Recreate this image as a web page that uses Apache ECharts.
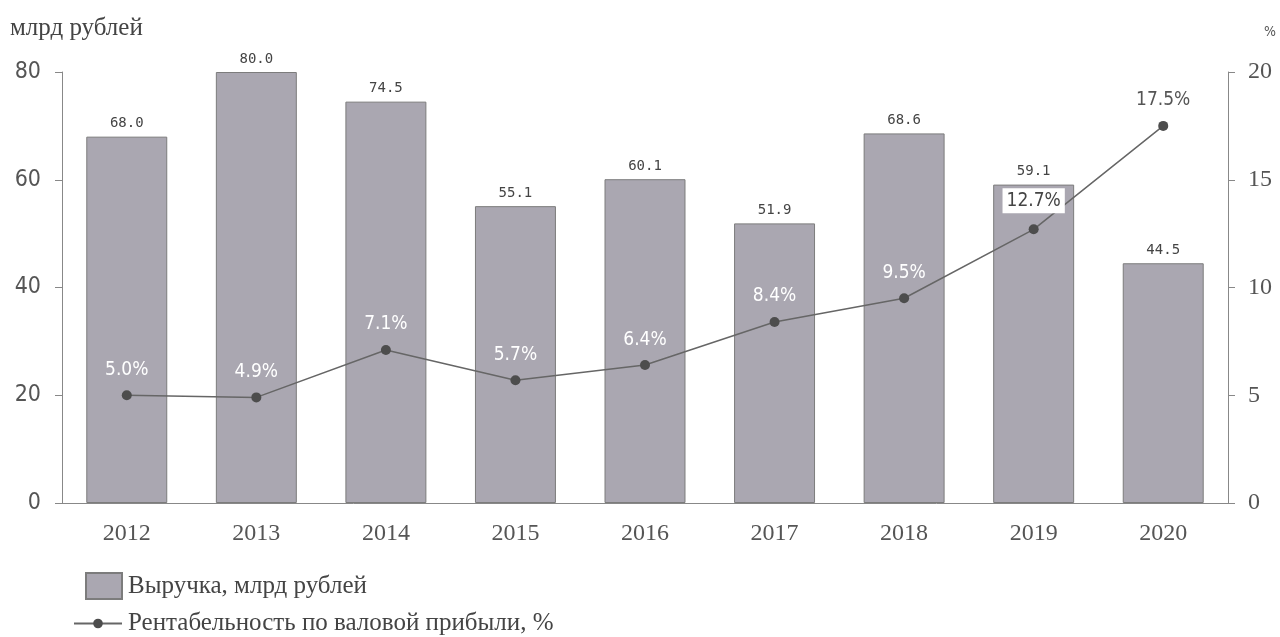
<!DOCTYPE html>
<html>
<head>
<meta charset="utf-8">
<script src="https://cdn.jsdelivr.net/npm/echarts@6/dist/echarts.min.js"></script>
<style>
  html, body { margin: 0; padding: 0; background: #fff; }
  #chart { width: 1280px; height: 637px; }
</style>
</head>
<body>
<div id="chart"></div>
<script>
// Годы
const years = ['2012', '2013', '2014', '2015', '2016', '2017', '2018', '2019', '2020'];
// Выручка, млрд рублей
const revenue = [68.0, 80.0, 74.5, 55.1, 60.1, 51.9, 68.6, 59.1, 44.5];
// Рентабельность по валовой прибыли, %
const margin = [5.0, 4.9, 7.1, 5.7, 6.4, 8.4, 9.5, 12.7, 17.5];
// Деления осей
const leftTicks = [0, 20, 40, 60, 80];
const rightTicks = [0, 5, 10, 15, 20];

const revenueName = 'Выручка, млрд рублей';
const marginName = 'Рентабельность по валовой прибыли, %';

const serif = '"Liberation Serif", "DejaVu Serif", serif';
const sansCond = '"DejaVu Sans Condensed", "DejaVu Sans", sans-serif';

// Подписи линии: белые на столбцах, тёмные вне их, одна — в белой рамке
function marginLabel(i) {
  if (i === 8) return { color: '#555' };
  if (i === 7) return { color: '#444', backgroundColor: '#fff', padding: [3, 4, 3, 4] };
  return { color: '#fff' };
}

const chart = echarts.init(document.getElementById('chart'));
chart.setOption({
  animation: false,
  grid: { left: 62, right: 52, top: 72, bottom: 134 },
  legend: [
    {
      data: [{ name: revenueName, icon: 'rect' }],
      left: 85, top: 572, padding: 0,
      itemWidth: 36, itemHeight: 26, itemGap: 6,
      textStyle: { fontFamily: serif, fontSize: 25, color: '#444', padding: [0, 0, 0, 1] }
    },
    {
      data: [marginName],
      left: 73, top: 611, padding: 0,
      itemWidth: 48, itemHeight: 12, itemGap: 6,
      textStyle: { fontFamily: serif, fontSize: 25, color: '#444', padding: [0, 0, 0, 1] }
    }
  ],
  graphic: [
    { type: 'text', left: 10, top: 16, style: { text: 'млрд рублей', font: '25px ' + serif, fill: '#444' } },
    { type: 'text', left: 1264, top: 25, style: { text: '%', font: '14px ' + sansCond, fill: '#555' } }
  ],
  xAxis: {
    type: 'category',
    data: years,
    axisLine: { lineStyle: { color: '#888' } },
    axisTick: { length: 7, lineStyle: { color: '#888' } },
    axisLabel: { fontFamily: serif, fontSize: 24, color: '#555', margin: 19 }
  },
  yAxis: [
    {
      type: 'value', min: leftTicks[0], max: leftTicks[leftTicks.length - 1], interval: leftTicks[1] - leftTicks[0],
      axisLine: { show: true, lineStyle: { color: '#888' } },
      axisTick: { show: true, length: 7, lineStyle: { color: '#888' } },
      splitLine: { show: false },
      axisLabel: { fontFamily: sansCond, fontSize: 23, color: '#555', margin: 21 }
    },
    {
      type: 'value', min: rightTicks[0], max: rightTicks[rightTicks.length - 1], interval: rightTicks[1] - rightTicks[0],
      position: 'right',
      axisLine: { show: true, lineStyle: { color: '#888' } },
      axisTick: { show: true, length: 7, lineStyle: { color: '#888' } },
      splitLine: { show: false },
      axisLabel: { fontFamily: serif, fontSize: 24, color: '#555', margin: 20 }
    }
  ],
  series: [
    {
      name: revenueName,
      type: 'bar',
      data: revenue,
      barWidth: '62.5%',
      itemStyle: { color: '#aaa7b1', borderColor: '#7c7c7c', borderWidth: 1 },
      label: {
        show: true, position: 'top', distance: 6,
        fontFamily: '"DejaVu Sans Mono", monospace', fontSize: 14, color: '#444',
        formatter: p => p.value.toFixed(1)
      }
    },
    {
      name: marginName,
      type: 'line',
      yAxisIndex: 1,
      data: margin.map((v, i) => ({ value: v, label: marginLabel(i) })),
      symbol: 'circle', symbolSize: 10,
      lineStyle: { color: '#666', width: 1.5 },
      itemStyle: { color: '#4d4d4d' },
      label: {
        show: true, position: 'top', distance: 11,
        fontFamily: sansCond, fontSize: 19,
        formatter: p => p.value.toFixed(1) + '%'
      }
    }
  ]
});
</script>
</body>
</html>
